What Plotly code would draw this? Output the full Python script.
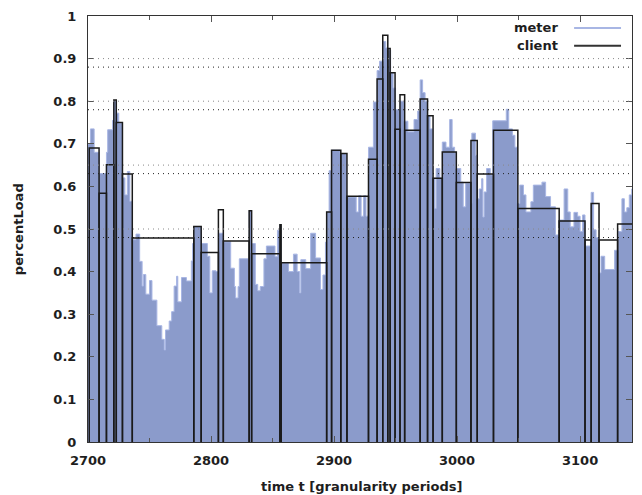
import plotly.graph_objects as go

# ---- meter: step values (start of each step, value) ----
meter_t = [2700, 2702, 2705, 2709, 2715, 2716, 2720, 2721, 2723, 2725, 2728, 2730, 2732, 2734,
           2736, 2739, 2742, 2744, 2745, 2747, 2750, 2752, 2756, 2760, 2762, 2763, 2766, 2768,
           2770, 2772, 2773, 2776, 2780, 2784, 2785, 2786, 2792, 2797, 2799, 2801, 2804, 2806,
           2810, 2816, 2819, 2820, 2822, 2823, 2831, 2833, 2836, 2838, 2840, 2843, 2845, 2852,
           2854, 2856, 2857, 2863, 2867, 2870, 2872, 2873, 2877, 2881, 2885, 2889, 2891, 2893,
           2894, 2896, 2898, 2905, 2910, 2918, 2920, 2922, 2924, 2926, 2928, 2932, 2935, 2937,
           2940, 2942, 2944, 2946, 2948, 2950, 2954, 2957, 2960, 2965, 2968, 2970, 2972, 2974,
           2976, 2978, 2980, 2982, 2983, 2986, 2988, 2991, 2994, 2996, 2998, 2999, 3003, 3005,
           3007, 3011, 3012, 3015, 3016, 3018, 3020, 3021, 3022, 3024, 3027, 3029, 3040, 3042,
           3045, 3047, 3049, 3051, 3054, 3056, 3060, 3062, 3069, 3072, 3076, 3080, 3083, 3087,
           3090, 3092, 3095, 3098, 3100, 3102, 3104, 3109, 3111, 3113, 3115, 3117, 3120, 3128,
           3131, 3134, 3136, 3138, 3140, 3142, 3144, 3146]
meter_v = [0.70, 0.735, 0.68, 0.63, 0.68, 0.733, 0.755, 0.80, 0.772, 0.748, 0.62, 0.58, 0.635, 0.565,
           0.475, 0.488, 0.424, 0.366, 0.393, 0.347, 0.379, 0.333, 0.273, 0.241, 0.216, 0.263, 0.284, 0.306,
           0.366, 0.389, 0.329, 0.386, 0.378, 0.425, 0.466, 0.506, 0.466, 0.436, 0.350, 0.402, 0.400, 0.49,
           0.47, 0.408, 0.365, 0.338, 0.365, 0.43, 0.543, 0.466, 0.37, 0.355, 0.365, 0.43, 0.46, 0.435,
           0.497, 0.51, 0.42, 0.40, 0.441, 0.40, 0.35, 0.428, 0.407, 0.49, 0.432, 0.358, 0.392, 0.469,
           0.54, 0.637, 0.685, 0.677, 0.575, 0.54, 0.578, 0.53, 0.578, 0.53, 0.692, 0.798, 0.872, 0.894,
           0.94, 0.925, 0.92, 0.867, 0.831, 0.78, 0.80, 0.753, 0.728, 0.757, 0.777, 0.85, 0.82, 0.80,
           0.766, 0.735, 0.619, 0.548, 0.642, 0.62, 0.704, 0.692, 0.757, 0.692, 0.68, 0.642, 0.61, 0.552,
           0.607, 0.56, 0.725, 0.673, 0.571, 0.594, 0.618, 0.528, 0.587, 0.642, 0.627, 0.754, 0.781, 0.735,
           0.72, 0.692, 0.56, 0.603, 0.58, 0.54, 0.564, 0.603, 0.61, 0.576, 0.552, 0.486, 0.521, 0.594,
           0.54, 0.505, 0.539, 0.53, 0.494, 0.533, 0.46, 0.586, 0.498, 0.48, 0.397, 0.436, 0.405, 0.45,
           0.494, 0.571, 0.54, 0.55, 0.58, 0.594, 0.56, 0.603]
meter_end = 3149

# ---- client: intervals (start, end, value) ----
client_start = [2701, 2709, 2715, 2721, 2723, 2728, 2736, 2786, 2792, 2806, 2810, 2831, 2833, 2856,
                2857, 2894, 2898, 2905.5, 2910.5, 2928, 2935, 2939.6, 2943.7, 2945.6, 2949.6, 2953.6,
                2957.4, 2970, 2976, 2980.5, 2988, 2999.4, 3011.3, 3016.4, 3029.6, 3049.4, 3083, 3104,
                3109, 3115.4, 3130.5]
client_end = [2709, 2715, 2721, 2723, 2728, 2736, 2786, 2792, 2806, 2810, 2831, 2833, 2856, 2857,
              2894, 2898, 2905.5, 2910.5, 2928, 2935, 2939.6, 2943.7, 2945.6, 2949.6, 2953.6, 2957.4,
              2970, 2976, 2980.5, 2988, 2999.4, 3011.3, 3016.4, 3029.6, 3049.4, 3083, 3104, 3109,
              3115.4, 3130.5, 3148.5]
client_v = [0.69, 0.584, 0.651, 0.803, 0.75, 0.629, 0.479, 0.506, 0.445, 0.545, 0.472, 0.543, 0.442, 0.51,
            0.421, 0.54, 0.685, 0.677, 0.577, 0.664, 0.852, 0.955, 0.924, 0.867, 0.734, 0.815,
            0.732, 0.805, 0.766, 0.619, 0.681, 0.609, 0.708, 0.629, 0.732, 0.548, 0.519, 0.474,
            0.56, 0.474, 0.512]

threshold_levels = [0.9, 0.88, 0.8, 0.78, 0.65, 0.63, 0.5, 0.48]
threshold_colors = ["#888", "#222", "#888", "#222", "#888", "#222", "#888", "#222"]

y_ticks = [0, 0.1, 0.2, 0.3, 0.4, 0.5, 0.6, 0.7, 0.8, 0.9, 1]
y_ticktext = ["0", "0.1", "0.2", "0.3", "0.4", "0.5", "0.6", "0.7", "0.8", "0.9", "1"]
x_ticks = [2700, 2800, 2900, 3000, 3100]
x_range = [2700, 3142.2]

FONT = "DejaVu Sans"
TXT = "#1e1e1e"

fig = go.Figure()

# meter: filled steps
fig.add_trace(go.Scatter(
    x=meter_t + [meter_end], y=meter_v + [meter_v[-1]],
    mode="lines", line_shape="hv",
    line=dict(color="rgb(168,182,228)", width=1),
    fill="tozeroy", fillcolor="rgb(139,155,203)",
    showlegend=False, hoverinfo="skip"))

# client: open rectangles built from the interval arrays
cx, cy = [], []
for s, e, v in zip(client_start, client_end, client_v):
    cx += [s, s, e, e, None]
    cy += [0, v, v, 0, None]
fig.add_trace(go.Scatter(
    x=cx, y=cy, mode="lines",
    line=dict(color="#1a1a1a", width=1.5),
    showlegend=False, hoverinfo="skip"))

shapes = []
for lv, c in zip(threshold_levels, threshold_colors):
    shapes.append(dict(type="line", xref="paper", x0=0, x1=1, yref="y", y0=lv, y1=lv,
                       line=dict(color=c, width=1, dash="1px,4px"), layer="above"))

PLOT_L, PLOT_W, PLOT_B, PLOT_H = 88, 545, 442, 429


def px2paper_x(p):
    return (p - PLOT_L) / float(PLOT_W)


def px2paper_y(p):
    return (PLOT_B - p) / float(PLOT_H)


# legend (text on the left, sample on the right, like the reference)
shapes.append(dict(type="line", xref="paper", yref="paper",
                   x0=px2paper_x(575), x1=px2paper_x(622), y0=px2paper_y(25), y1=px2paper_y(25),
                   line=dict(color="rgb(168,182,228)", width=2), layer="above"))
shapes.append(dict(type="line", xref="paper", yref="paper",
                   x0=px2paper_x(575), x1=px2paper_x(622), y0=px2paper_y(43), y1=px2paper_y(43),
                   line=dict(color="#333", width=2), layer="above"))

lab_font = dict(family=FONT, size=13, color=TXT, weight="bold")
annotations = [
    dict(text="meter", xref="paper", yref="paper", x=px2paper_x(561), y=px2paper_y(25),
         xanchor="right", yanchor="middle", showarrow=False, font=lab_font),
    dict(text="client", xref="paper", yref="paper", x=px2paper_x(561), y=px2paper_y(43),
         xanchor="right", yanchor="middle", showarrow=False, font=lab_font),
    dict(text="time t [granularity periods]", xref="paper", yref="paper",
         x=px2paper_x(362), y=px2paper_y(487), xanchor="center", yanchor="middle",
         showarrow=False, font=lab_font),
    dict(text="percentLoad", xref="paper", yref="paper",
         x=px2paper_x(18), y=0.5, xanchor="center", yanchor="middle", textangle=-90,
         showarrow=False, font=lab_font),
]

# the page body has an 8px margin and the visible width ends near x=634:
# size the figure so the plot area lands at x 88..633, y 13..442
fig.update_layout(
    width=626, height=487,
    margin=dict(l=80, r=1, t=5, b=53),
    paper_bgcolor="white", plot_bgcolor="white",
    shapes=shapes, annotations=annotations,
    showlegend=False,
    xaxis=dict(range=x_range, tickvals=x_ticks, ticks="inside", ticklen=6,
               tickcolor="#555", showline=True, linecolor="#333", linewidth=1,
               mirror="ticks", showgrid=False, zeroline=False, ticklabelstandoff=6,
               ticklabeloverflow="allow",
               minor=dict(dtick=50, tick0=2700, ticks="inside", ticklen=4, tickcolor="#555"),
               tickfont=lab_font),
    yaxis=dict(range=[0, 1], tickvals=y_ticks, ticktext=y_ticktext, ticks="inside", ticklen=6,
               tickcolor="#555", showline=True, linecolor="#333", linewidth=1,
               mirror="ticks", showgrid=False, zeroline=False, ticklabelstandoff=8,
               ticklabeloverflow="allow",
               tickfont=lab_font),
)

fig.write_html("out.html")
